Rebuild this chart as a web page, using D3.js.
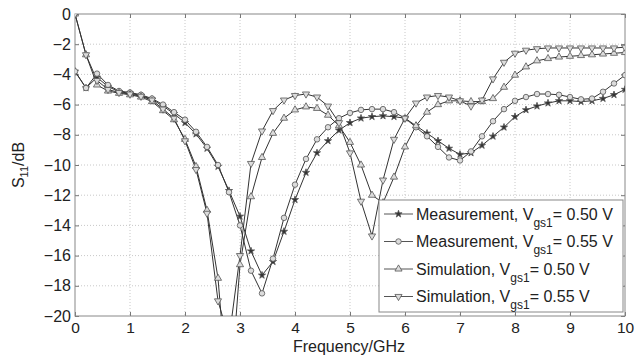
<!DOCTYPE html>
<html>
<head>
<meta charset="utf-8">
<title>S11 vs frequency</title>
<script src="https://cdnjs.cloudflare.com/ajax/libs/d3/7.8.5/d3.min.js"></script>
<style>
  body { margin: 0; background: #fff; }
  text { font-family: "Liberation Sans", Arial, Helvetica, sans-serif; fill: #222; }
</style>
</head>
<body>
<script>
// frequency points, every 0.2 GHz
var freq = d3.range(0, 51).map(function(i){ return +(i * 0.2).toFixed(1); });

var meas050 = [-3.8,-4.9,-4.2,-4.8,-5.15,-5.25,-5.4,-5.65,-6.1,-6.6,
               -7.2,-7.95,-8.9,-10.1,-11.7,-13.4,-15.7,-17.3,-16.4,-14.4,
               -12.3,-10.5,-9.2,-8.4,-7.7,-7.2,-6.9,-6.8,-6.75,-6.8,
               -6.9,-7.4,-7.9,-8.4,-8.9,-9.3,-9.2,-8.7,-8.1,-7.5,
               -6.8,-6.35,-6.1,-5.9,-5.75,-5.75,-5.8,-5.75,-5.6,-5.35,-5.0];
var meas055 = [-3.8,-4.9,-3.95,-4.7,-5.1,-5.2,-5.35,-5.6,-6.0,-6.5,
               -7.0,-7.8,-8.8,-10.0,-11.8,-14.0,-17.0,-18.5,-16.2,-13.5,
               -11.3,-9.6,-8.3,-7.5,-6.9,-6.55,-6.35,-6.3,-6.3,-6.5,
               -6.9,-7.5,-8.1,-8.8,-9.5,-9.7,-9.1,-8.1,-7.1,-6.3,
               -5.75,-5.5,-5.3,-5.3,-5.35,-5.5,-5.65,-5.6,-5.15,-4.6,-4.05];
var sim050 = [0,-2.7,-4.7,-5.1,-5.25,-5.35,-5.5,-5.8,-6.4,-7.0,
              -8.3,-10.1,-13.0,-17.5,-26.3,-16.6,-12.1,-9.5,-7.9,-6.9,
              -6.35,-6.15,-6.25,-6.7,-7.4,-8.5,-10.0,-12.0,-12.5,-10.8,
              -8.8,-7.4,-6.5,-6.0,-5.75,-5.75,-5.8,-5.8,-5.6,-4.85,
              -4.05,-3.5,-3.1,-2.95,-2.85,-2.8,-2.75,-2.7,-2.65,-2.6,-2.55];
var sim055 = [0,-2.7,-4.4,-5.0,-5.2,-5.3,-5.45,-5.7,-6.3,-6.9,
              -8.4,-10.3,-13.2,-19.0,-21.5,-16.0,-9.9,-7.75,-6.4,-5.7,
              -5.4,-5.3,-5.5,-6.1,-7.2,-9.2,-12.4,-14.7,-11.0,-8.3,
              -6.9,-5.9,-5.5,-5.4,-5.5,-5.75,-6.1,-5.7,-4.3,-3.2,
              -2.6,-2.4,-2.3,-2.25,-2.25,-2.25,-2.25,-2.25,-2.25,-2.25,-2.2];

var seriesNames = ["Measurement, V", "Measurement, V", "Simulation, V", "Simulation, V"];
var seriesTails = ["= 0.50 V", "= 0.55 V", "= 0.50 V", "= 0.55 V"];
var xTicks = [0,1,2,3,4,5,6,7,8,9,10];
var yTicks = [0,-2,-4,-6,-8,-10,-12,-14,-16,-18,-20];

var W = 644, H = 355;
var m = {left: 75, right: 19, top: 14, bottom: 39};
var iw = W - m.left - m.right, ih = H - m.top - m.bottom;

var svg = d3.select("body").append("svg")
    .attr("width", W).attr("height", H);

var x = d3.scaleLinear().domain([0, 10]).range([0, iw]);
var y = d3.scaleLinear().domain([-20, 0]).range([ih, 0]);

var g = svg.append("g").attr("transform", "translate(" + m.left + "," + m.top + ")");

svg.append("defs").append("clipPath").attr("id", "clip")
  .append("rect").attr("width", iw).attr("height", ih);

// grid
g.append("g").selectAll("line").data(xTicks.slice(1, -1)).enter().append("line")
  .attr("x1", function(d){ return x(d); }).attr("x2", function(d){ return x(d); })
  .attr("y1", 0).attr("y2", ih)
  .attr("stroke", "#c8c8c8").attr("stroke-dasharray", "1,2");
g.append("g").selectAll("line").data(yTicks.slice(1, -1)).enter().append("line")
  .attr("y1", function(d){ return y(d); }).attr("y2", function(d){ return y(d); })
  .attr("x1", 0).attr("x2", iw)
  .attr("stroke", "#c8c8c8").attr("stroke-dasharray", "1,2");

// axes (ticks point inward)
function styleAxis(sel, fs) {
  sel.select(".domain").remove();
  sel.selectAll(".tick line").attr("stroke", "#777");
  sel.selectAll("text").style("font-size", fs || "16px").attr("fill", "#222");
}
g.append("g").attr("transform", "translate(0," + ih + ")")
  .call(d3.axisBottom(x).tickValues(xTicks).tickSize(-4).tickPadding(6)
        .tickFormat(d3.format("d")))
  .call(styleAxis, "15.5px");
g.append("g")
  .call(d3.axisTop(x).tickValues(xTicks).tickSize(-4).tickFormat(""))
  .call(styleAxis);
g.append("g")
  .call(d3.axisLeft(y).tickValues(yTicks).tickSize(-4).tickPadding(4)
        .tickFormat(function(d){ return d === 0 ? "0" : "\u2212" + Math.abs(d); }))
  .call(styleAxis);
g.append("g").attr("transform", "translate(" + iw + ",0)")
  .call(d3.axisRight(y).tickValues(yTicks).tickSize(-4).tickFormat(""))
  .call(styleAxis);

g.append("rect").attr("width", iw).attr("height", ih)
  .attr("fill", "none").attr("stroke", "#888").attr("stroke-width", 1);

// series
var symStar = d3.symbol().type(d3.symbolStar).size(16);
var symCircle = d3.symbol().type(d3.symbolCircle).size(24);
var symTri = d3.symbol().type(d3.symbolTriangle).size(22);

var series = [
  {vals: meas050, sym: symStar, fill: "#333", rot: 0},
  {vals: meas055, sym: symCircle, fill: "#dcdcdc", rot: 0},
  {vals: sim050, sym: symTri, fill: "#dcdcdc", rot: 0},
  {vals: sim055, sym: symTri, fill: "#dcdcdc", rot: 180}
];

var line = d3.line()
  .x(function(d, i){ return x(freq[i]); })
  .y(function(d){ return y(d); });

var plot = g.append("g").attr("clip-path", "url(#clip)");
series.forEach(function(s) {
  plot.append("path").datum(s.vals)
    .attr("fill", "none").attr("stroke", "#333").attr("stroke-width", 1)
    .attr("d", line);
});
series.forEach(function(s) {
  plot.append("g").selectAll("path").data(s.vals).enter().append("path")
    .attr("d", s.sym())
    .attr("transform", function(d, i){
      return "translate(" + x(freq[i]) + "," + y(d) + ") rotate(" + s.rot + ")";
    })
    .attr("fill", s.fill).attr("stroke", "#555").attr("stroke-width", 0.8);
});

// axis titles
svg.append("text").attr("x", 349).attr("y", 352).attr("text-anchor", "middle")
  .style("font-size", "16px").text("Frequency/GHz");

var yl = svg.append("text").attr("transform", "translate(24,165) rotate(-90)")
  .attr("text-anchor", "middle").style("font-size", "16px");
yl.append("tspan").text("S");
yl.append("tspan").attr("dy", 4).style("font-size", "11px").text("11");
yl.append("tspan").attr("dy", -4).text("/dB");

// legend
var lg = svg.append("g").attr("transform", "translate(379,200)");
lg.append("rect").attr("width", 244).attr("height", 112)
  .attr("fill", "#fff").attr("stroke", "#888");
series.forEach(function(s, i) {
  var ry = 14 + i * 27.5;
  var row = lg.append("g").attr("transform", "translate(0," + ry + ")");
  row.append("line").attr("x1", 5).attr("x2", 34).attr("y1", 0).attr("y2", 0)
    .attr("stroke", "#555");
  row.append("path").attr("d", s.sym()).attr("transform", "translate(19.5,0) rotate(" + s.rot + ")")
    .attr("fill", s.fill).attr("stroke", "#555").attr("stroke-width", 0.8);
  var t = row.append("text").attr("x", 37).attr("y", 5.5).style("font-size", "16px");
  t.append("tspan").text(seriesNames[i]);
  t.append("tspan").attr("dy", 7).style("font-size", "12px").text("gs1");
  t.append("tspan").attr("dy", -7).text(seriesTails[i]);
});
</script>
</body>
</html>
